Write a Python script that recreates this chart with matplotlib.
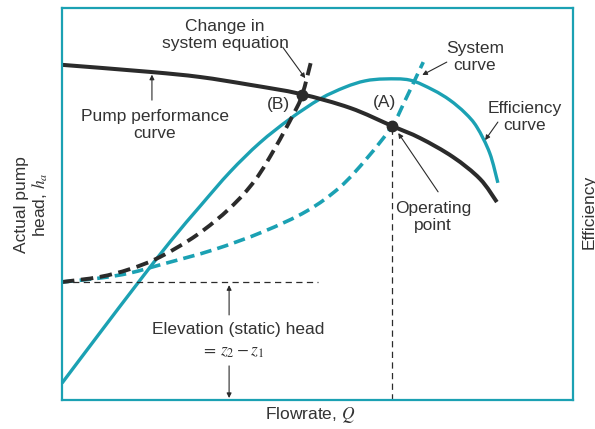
import matplotlib
matplotlib.use("Agg")
import matplotlib.pyplot as plt
from matplotlib.path import Path
from matplotlib.patches import PathPatch

plt.rcParams["font.family"] = ["Liberation Sans", "DejaVu Sans"]
plt.rcParams["mathtext.fontset"] = "stix"

TEAL = "#1ba1b3"
INK = "#2b2b2b"
TXT = "#333333"

# Pump performance curve (flowrate Q, head h)
pump_q = [0, 1.72, 2.70, 3.68, 4.66, 5.64, 6.46, 7.01, 7.65, 8.18, 8.51]
pump_h = [8.55, 8.37, 8.24, 8.04, 7.81, 7.45, 6.99, 6.68, 6.20, 5.64, 5.05]

# Efficiency curve
eff_q = [0, 0.74, 1.47, 2.13, 2.72, 3.29, 3.87, 4.46, 5.05, 5.54, 5.93,
         6.32, 6.81, 7.26, 7.59, 7.89, 8.12, 8.37, 8.53]
eff_h = [0.43, 1.71, 2.96, 4.06, 4.97, 5.82, 6.56, 7.17, 7.68, 7.98, 8.14,
         8.19, 8.16, 7.91, 7.65, 7.32, 6.96, 6.30, 5.54]

# System curve
sys_q = [0, 0.74, 1.33, 1.98, 2.96, 3.93, 4.79, 5.44, 5.97, 6.46, 6.71, 6.95, 7.07]
sys_h = [3.01, 3.11, 3.24, 3.47, 3.83, 4.29, 4.82, 5.43, 6.17, 6.99, 7.63, 8.29, 8.62]

# System curve after a change in the system equation
sys2_q = [0, 0.74, 1.33, 1.92, 2.64, 3.29, 3.78, 4.17, 4.52, 4.70, 4.89]
sys2_h = [3.01, 3.14, 3.34, 3.65, 4.21, 4.90, 5.61, 6.43, 7.27, 7.78, 8.72]

static_head = 3.01
point_a = (6.46, 6.99)
point_b = (4.70, 7.79)


def smooth_path(xs, ys):
    """Cubic Bezier path passing through every (x, y) point (Catmull-Rom)."""
    pts = list(zip(xs, ys))
    verts = [pts[0]]
    codes = [Path.MOVETO]
    n = len(pts)
    for i in range(n - 1):
        p0 = pts[i - 1] if i > 0 else pts[i]
        p1 = pts[i]
        p2 = pts[i + 1]
        p3 = pts[i + 2] if i + 2 < n else pts[i + 1]
        c1 = (p1[0] + (p2[0] - p0[0]) / 6, p1[1] + (p2[1] - p0[1]) / 6)
        c2 = (p2[0] - (p3[0] - p1[0]) / 6, p2[1] - (p3[1] - p1[1]) / 6)
        verts += [c1, c2, p2]
        codes += [Path.CURVE4] * 3
    return Path(verts, codes)


def draw_curve(ax, xs, ys, color, lw, ls="solid"):
    patch = PathPatch(smooth_path(xs, ys), fill=False, edgecolor=color,
                      lw=lw, linestyle=ls, capstyle="butt", joinstyle="round")
    ax.add_patch(patch)


fig = plt.figure(figsize=(5.95, 4.29), dpi=100)
ax = fig.add_axes([62 / 595, 29 / 429, 511 / 595, 392 / 429])
ax.set_xlim(0, 10)
ax.set_ylim(0, 10)
ax.set_xticks([])
ax.set_yticks([])
for s in ax.spines.values():
    s.set_color(TEAL)
    s.set_linewidth(1.6)

# reference lines for static head and operating flowrate
ax.plot([0, 5.01], [static_head, static_head], color=INK, lw=0.9,
        dashes=(5, 3.5))
ax.plot([point_a[0], point_a[0]], [0, point_a[1]], color=INK, lw=0.9,
        dashes=(5, 3.5))

draw_curve(ax, eff_q, eff_h, TEAL, 2.4)
draw_curve(ax, sys_q, sys_h, TEAL, 2.6, (0, (3.2, 1.7)))
draw_curve(ax, sys2_q, sys2_h, INK, 2.8, (0, (3.2, 1.7)))
draw_curve(ax, pump_q, pump_h, INK, 2.9)

ax.plot(*point_a, "o", color=INK, ms=7.5, zorder=5)
ax.plot(*point_b, "o", color=INK, ms=7.5, zorder=5)

fs = 12.5
tkw = dict(color=TXT, fontsize=fs, ha="center", va="center", linespacing=1.15)
akw = dict(arrowstyle="-|>", color=INK, lw=0.8, mutation_scale=7,
           shrinkA=0, shrinkB=0)

ax.text(3.19, 9.31, "Change in\nsystem equation", **tkw)
ax.annotate("", xy=(4.76, 8.21), xytext=(4.32, 9.0), arrowprops=akw)

ax.text(1.82, 7.02, "Pump performance\ncurve", **tkw)
ax.annotate("", xy=(1.76, 8.30), xytext=(1.76, 7.65), arrowprops=akw)

ax.text(4.23, 7.55, "(B)", **tkw)
ax.text(6.32, 7.58, "(A)", **tkw)

ax.text(8.08, 8.75, "System\ncurve", **tkw)
ax.annotate("", xy=(7.05, 8.29), xytext=(7.53, 8.62), arrowprops=akw)

ax.text(9.06, 7.22, "Efficiency\ncurve", **tkw)
ax.annotate("", xy=(8.28, 6.63), xytext=(8.53, 7.09), arrowprops=akw)

ax.text(7.26, 4.67, "Operating\npoint", **tkw)
ax.annotate("", xy=(6.58, 6.81), xytext=(7.36, 5.31), arrowprops=akw)

ax.text(3.44, 1.81, "Elevation (static) head", **tkw)
ax.text(3.33, 1.20, r"$=\, z_2 - z_1$", **tkw)
ax.annotate("", xy=(3.27, 2.93), xytext=(3.27, 2.17), arrowprops=akw)
ax.annotate("", xy=(3.27, 0.05), xytext=(3.27, 0.87), arrowprops=akw)

fig.text(32 / 595, 1 - 205 / 429, "Actual pump\nhead, $h_a$", rotation=90,
         color=TXT, fontsize=fs, ha="center", va="center", linespacing=1.15)
fig.text(589 / 595, 1 - 212 / 429, "Efficiency", rotation=90,
         color=TXT, fontsize=fs, ha="center", va="center")
fig.text(310 / 595, 1 - 415 / 429, "Flowrate, $Q$",
         color=TXT, fontsize=fs, ha="center", va="center")

fig.savefig("out.png", dpi=100)
